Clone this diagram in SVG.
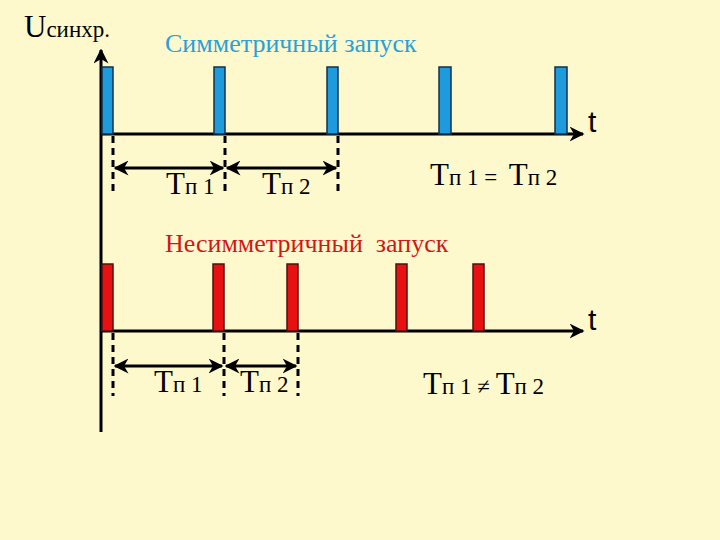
<svg xmlns="http://www.w3.org/2000/svg" width="720" height="540" viewBox="0 0 720 540">
<defs>
<marker id="ah" viewBox="0 0 10 10" refX="9" refY="5" markerWidth="5" markerHeight="5" orient="auto-start-reverse" markerUnits="strokeWidth">
<path d="M0,0 L10,5 L0,10 L3,5 Z" fill="#000"/>
</marker>
<marker id="ax" viewBox="0 0 10 10" refX="9" refY="5" markerWidth="5" markerHeight="5" orient="auto" markerUnits="strokeWidth">
<path d="M0,0 L10,5 L0,10 L3,5 Z" fill="#000"/>
</marker>
</defs>
<rect width="720" height="540" fill="#FEF9CD"/>

<g id="connectors" stroke="#000" stroke-width="3" fill="none">
<line x1="101" y1="432" x2="101" y2="50" marker-end="url(#ax)"/>
<line x1="101" y1="134" x2="583" y2="134" marker-end="url(#ax)"/>
<line x1="101" y1="331" x2="583" y2="331" marker-end="url(#ax)"/>
<g stroke-dasharray="7,5">
<line x1="113" y1="136" x2="113" y2="194"/>
<line x1="225" y1="136" x2="225" y2="194"/>
<line x1="338" y1="136" x2="338" y2="194"/>
<line x1="113" y1="333" x2="113" y2="396"/>
<line x1="224" y1="333" x2="224" y2="396"/>
<line x1="298" y1="333" x2="298" y2="396"/>
</g>
<line x1="115" y1="168" x2="223" y2="168" marker-start="url(#ah)" marker-end="url(#ah)"/>
<line x1="227" y1="168" x2="336" y2="168" marker-start="url(#ah)" marker-end="url(#ah)"/>
<line x1="115" y1="366" x2="222" y2="366" marker-start="url(#ah)" marker-end="url(#ah)"/>
<line x1="226" y1="366" x2="296" y2="366" marker-start="url(#ah)" marker-end="url(#ah)"/>
</g>

<g id="pulses-sym" fill="#1E9BDC" stroke="#10304a" stroke-width="1.5">
<rect x="102" y="67" width="11" height="67"/>
<rect x="214" y="67" width="11" height="67"/>
<rect x="327" y="67" width="11" height="67"/>
<rect x="439" y="67" width="12" height="67"/>
<rect x="555" y="67" width="12" height="67"/>
</g>
<g id="pulses-asym" fill="#E81010" stroke="#501010" stroke-width="1.5">
<rect x="102" y="264" width="11" height="67"/>
<rect x="213" y="264" width="11" height="67"/>
<rect x="287" y="264" width="11" height="67"/>
<rect x="396" y="264" width="11" height="67"/>
<rect x="473" y="264" width="11" height="67"/>
</g>

<g id="labels">
<text font-family="Liberation Serif" x="24" y="37" font-size="23"><tspan font-size="31">U</tspan>синхр.</text>
<text font-family="Liberation Serif" x="165" y="52" font-size="26" fill="#2AA0D8">Симметричный запуск</text>
<text font-family="Liberation Serif" x="165" y="252" font-size="26" fill="#D01818" xml:space="preserve">Несимметричный  запуск</text>
<text font-family="Liberation Sans" x="588" y="132" font-size="30">t</text>
<text font-family="Liberation Sans" x="588" y="330" font-size="30">t</text>
<text font-family="Liberation Serif" x="166" y="194" font-size="23"><tspan font-size="31">Т</tspan>п 1</text>
<text font-family="Liberation Serif" x="262" y="194" font-size="23"><tspan font-size="31">Т</tspan>п 2</text>
<text font-family="Liberation Serif" x="430" y="185" font-size="23" xml:space="preserve"><tspan font-size="31">Т</tspan>п 1 =  <tspan font-size="31">Т</tspan>п 2</text>
<text font-family="Liberation Serif" x="154" y="392" font-size="23"><tspan font-size="31">Т</tspan>п 1</text>
<text font-family="Liberation Serif" x="240" y="392" font-size="23"><tspan font-size="31">Т</tspan>п 2</text>
<text font-family="Liberation Serif" x="423" y="394" font-size="23" xml:space="preserve"><tspan font-size="31">Т</tspan>п 1 ≠ <tspan font-size="31">Т</tspan>п 2</text>
</g>
</svg>
